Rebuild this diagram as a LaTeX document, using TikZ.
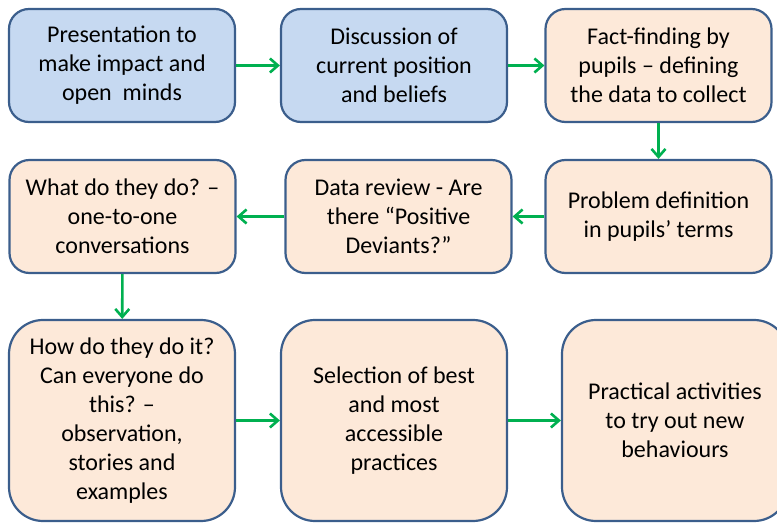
\documentclass[tikz,border=0pt]{standalone}
\usepackage{fontspec}
\setmainfont{Carlito}
\usetikzlibrary{arrows.meta}
\definecolor{boxblue}{HTML}{C6D9F1}
\definecolor{boxpeach}{HTML}{FDE9D9}
\definecolor{boxline}{HTML}{3B5E8C}
\definecolor{flowgreen}{HTML}{00B050}
\tikzset{
  stage/.style={draw=boxline, line width=2.2pt, rounded corners=20pt, align=center,
    font=\fontsize{24}{29}\selectfont, text=black, inner sep=0pt,
    minimum width=226pt, minimum height=113pt},
  planbox/.style={stage, fill=boxblue},
  pupilbox/.style={stage, fill=boxpeach},
  tallbox/.style={pupilbox, minimum height=201pt, rounded corners=34pt},
  flow/.style={draw=flowgreen, line width=2.6pt, -{Straight Barb[length=8pt,width=14pt]}}
}
\begin{document}
\begin{tikzpicture}[x=1pt,y=1pt]
  \useasboundingbox (0,0) rectangle (777,523);
  \clip (0,0) rectangle (777,523);
  % first row
  \node[planbox] (present) at (122,457.5) {Presentation to\\make impact and\\open\ \ minds};
  \node[planbox] (discuss) at (394,457.5) {Discussion of\\current position\\and beliefs};
  \node[pupilbox] (facts) at (658.5,457.5) {Fact-finding by\\pupils – defining\\the data to collect};
  % second row
  \node[pupilbox] (what) at (122.5,306.5) {What do they do? –\\one-to-one\\conversations};
  \node[pupilbox] (review) at (398.5,306.5) {Data review - Are\\there “Positive\\Deviants?”};
  \node[pupilbox] (problem) at (658.5,306.5) {Problem definition\\in pupils’ terms};
  % third row
  \node[tallbox] (how) at (122,102.5) {How do they do it?\\Can everyone do\\this? –\\observation,\\stories and\\examples};
  \node[tallbox] (select) at (394,102.5) {Selection of best\\and most\\accessible\\practices};
  \node[tallbox] (practice) at (675,102.5) {Practical activities\\to try out new\\behaviours};
  % arrows
  \draw[flow] (present) -- (discuss);
  \draw[flow] (discuss) -- (facts);
  \draw[flow] (facts) -- (problem);
  \draw[flow] (problem) -- (review);
  \draw[flow] (review) -- (what);
  \draw[flow] (what) -- (how);
  \draw[flow] (how) -- (select);
  \draw[flow] (select) -- (practice);
\end{tikzpicture}
\end{document}
